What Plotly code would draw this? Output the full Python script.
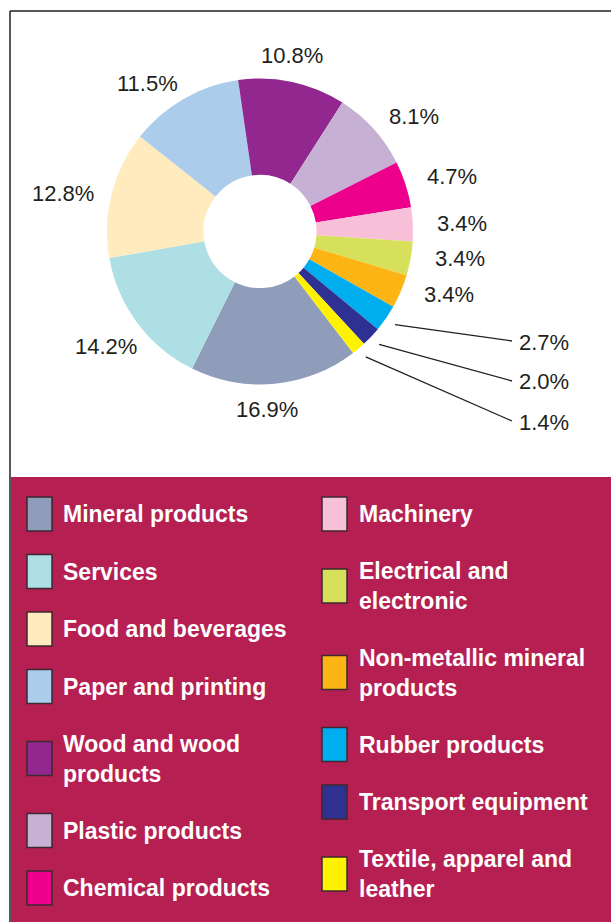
import math
import plotly.graph_objects as go

# Share of firms by sector (%), in drawing order (clockwise)
sectors = ["Mineral products", "Services", "Food and beverages", "Paper and printing",
           "Wood and wood products", "Plastic products", "Chemical products", "Machinery",
           "Electrical and electronic", "Non-metallic mineral products", "Rubber products",
           "Transport equipment", "Textile, apparel and leather"]
shares = [16.9, 14.2, 12.8, 11.5, 10.8, 8.1, 4.7, 3.4, 3.4, 3.4, 2.7, 2.0, 1.4]
colors = ["#8F9CBA", "#AEDFE4", "#FFEBBE", "#ABCDEB", "#92278F", "#C6B1D5", "#EC008C",
          "#F8BFD9", "#D6E05B", "#FDB515", "#00AEEF", "#2E3192", "#FFF200"]

# Key wording, wrapped as in the two key columns
key_left = ["Mineral products", "Services", "Food and beverages", "Paper and printing",
            "Wood and wood<br>products", "Plastic products", "Chemical products"]
key_right = ["Machinery", "Electrical and<br>electronic", "Non-metallic mineral<br>products",
             "Rubber products", "Transport equipment", "Textile, apparel and<br>leather"]

# ---- page geometry (pixels) ----
W, H = 611, 922
CX, CY, R = 260.0, 231.5, 153.0      # ring centre and outer radius
HOLE = 0.37
START = 142.5                        # first slice begins here, clockwise from 12 o'clock
LABEL_A, LABEL_B = 202.0, 178.0      # ellipse on which value labels sit
# small angular shifts (degrees) to balance a few labels around the ring
label_nudge = {"Mineral products": 3.5, "Services": -3.3, "Food and beverages": -1.7,
               "Paper and printing": -4.0, "Wood and wood products": -3.0,
               "Plastic products": 1.7, "Electrical and electronic": -1.4,
               "Non-metallic mineral products": -2.4}
CALLOUT_LIMIT = 3.0                  # slices below this get a leader line
CALLOUT_X, CALLOUT_Y0, CALLOUT_STEP = 519.0, 342.0, 40.0
PANEL_TOP = 477.0
INK = "#231F20"
PANEL = "#B51F51"
FONT = "Liberation Sans, Arial, sans-serif"


def px(x):
    return x / W


def py(y):
    return 1 - y / H


fig = go.Figure(go.Pie(
    labels=sectors, values=shares, sort=False, direction="clockwise",
    rotation=START, hole=HOLE, textinfo="none", hoverinfo="label+percent",
    marker=dict(colors=colors, line=dict(width=0)), showlegend=False,
    domain=dict(x=[px(CX - R), px(CX + R)], y=[py(CY + R), py(CY - R)]),
))

annotations = []
shapes = []

# value labels around the ring
total = sum(shares)
angle = START
callout_i = 0
for name, v in zip(sectors, shares):
    span = v / total * 360.0
    mid = angle + span / 2.0
    angle += span
    text = f"{v:.1f}%"
    if v < CALLOUT_LIMIT:
        t = math.radians(mid)
        x0 = CX + (R + 11) * math.sin(t)
        y0 = CY - (R + 11) * math.cos(t)
        ly = CALLOUT_Y0 + callout_i * CALLOUT_STEP
        callout_i += 1
        shapes.append(dict(type="line", xref="paper", yref="paper",
                           x0=px(x0), y0=py(y0), x1=px(CALLOUT_X - 7), y1=py(ly - 1),
                           line=dict(color=INK, width=1.3)))
        annotations.append(dict(x=px(CALLOUT_X - 2), y=py(ly), xref="paper", yref="paper",
                                text=text, showarrow=False, xanchor="left", yanchor="middle",
                                font=dict(family=FONT, size=22, color=INK)))
    else:
        t = math.radians(mid + label_nudge.get(name, 0.0))
        lx = CX + LABEL_A * math.sin(t)
        ly = CY - LABEL_B * math.cos(t)
        annotations.append(dict(x=px(lx), y=py(ly), xref="paper", yref="paper",
                                text=text, showarrow=False, xanchor="center", yanchor="middle",
                                font=dict(family=FONT, size=22, color=INK)))

# key panel
shapes.append(dict(type="rect", xref="paper", yref="paper", layer="below",
                   x0=px(11), x1=1, y0=0, y1=py(PANEL_TOP),
                   fillcolor=PANEL, line=dict(width=0)))
# frame
shapes.append(dict(type="line", xref="paper", yref="paper",
                   x0=px(10), x1=px(10), y0=0, y1=py(11), line=dict(color=INK, width=1.5)))
shapes.append(dict(type="line", xref="paper", yref="paper",
                   x0=px(10), x1=1, y0=py(11), y1=py(11), line=dict(color=INK, width=1.5)))

KEY_Y0, KEY_STEP, KEY_EXTRA = 514.0, 57.5, 14.5
SW_W, SW_H = 25.0, 34.0


def draw_key(items, color_list, sw_x, text_x):
    y = KEY_Y0
    prev_extra = None
    for label, col in zip(items, color_list):
        extra = label.count("<br>")
        if prev_extra is not None:
            y += KEY_STEP + KEY_EXTRA * (prev_extra + extra)
        prev_extra = extra
        shapes.append(dict(type="rect", xref="paper", yref="paper",
                           x0=px(sw_x), x1=px(sw_x + SW_W),
                           y0=py(y + SW_H / 2), y1=py(y - SW_H / 2),
                           fillcolor=col, line=dict(color="#3B2A30", width=1.5)))
        annotations.append(dict(x=px(text_x), y=py(y), xref="paper", yref="paper",
                                text=f"<b>{label}</b>", showarrow=False,
                                xanchor="left", yanchor="middle", align="left",
                                font=dict(family=FONT, size=23, color="white")))


draw_key(key_left, colors[:len(key_left)], 27, 61)
draw_key(key_right, colors[len(key_left):], 322, 357)

fig.update_layout(
    width=W, height=H, margin=dict(l=0, r=0, t=0, b=0),
    paper_bgcolor="white", plot_bgcolor="white",
    annotations=annotations, shapes=shapes,
)

fig.write_html("out.html")
